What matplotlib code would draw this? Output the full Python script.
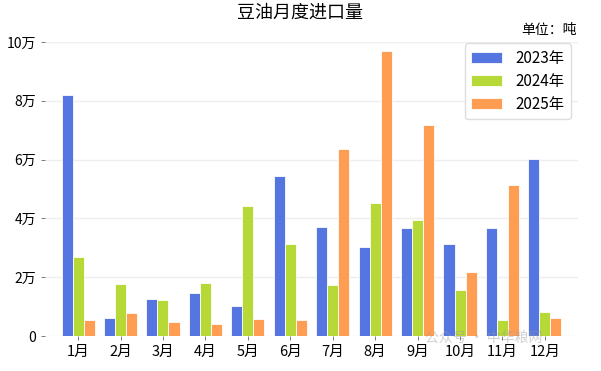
import numpy as np
import matplotlib
matplotlib.use("Agg")
import matplotlib.pyplot as plt

plt.rcParams['font.family'] = ['Noto Sans CJK SC', 'DejaVu Sans']

months = ['1月', '2月', '3月', '4月', '5月', '6月', '7月', '8月', '9月', '10月', '11月', '12月']
y2023 = [82000, 6200, 12600, 14700, 10100, 54400, 37000, 30400, 36600, 31300, 36600, 60300]
y2024 = [26800, 17800, 12100, 18000, 44100, 31300, 17300, 45200, 39500, 15600, 5300, 8100]
y2025 = [5400, 7800, 4900, 4200, 5800, 5500, 63600, 97000, 71700, 21700, 51300, 6100]
series = ['2023年', '2024年', '2025年']
colors = ['#4f72e0', '#b5d831', '#ff9a4d']
yticks = [0, 20000, 40000, 60000, 80000, 100000]
ylabels = ['0', '2万', '4万', '6万', '8万', '10万']

fig = plt.figure(figsize=(6.01, 3.71), dpi=100)
ax = fig.add_axes([45 / 601, 35 / 371, 533 / 601, 294 / 371])

x = np.arange(len(months))
w = 0.26
for i, (vals, name) in enumerate(zip([y2023, y2024, y2025], series)):
    ax.bar(x + (i - 1) * w, vals, w, color=colors[i], label=name,
           edgecolor='white', linewidth=0.6, alpha=0.97, zorder=3)

ax.set_xlim(-0.78, 11.78)
ax.set_ylim(0, 100000)
ax.set_xticks(x)
ax.set_xticklabels(months, fontsize=10.5)
ax.set_yticks(yticks)
ax.set_yticklabels(ylabels, fontsize=10)
ax.tick_params(axis='both', length=3, width=0.6, color='#666666')
ax.grid(axis='y', color='#eeeeee', linewidth=1, zorder=0)
for s in ax.spines.values():
    s.set_visible(False)
ax.set_axisbelow(True)

fig.text(0.5, 1 - 13 / 371, '豆油月度进口量', ha='center', va='center', fontsize=13)
fig.text(577 / 601, 1 - 30 / 371, '单位：吨', ha='right', va='center', fontsize=10)

ax.legend(loc='upper right', bbox_to_anchor=(0.986, 0.995), borderaxespad=0,
          fontsize=11, handlelength=2.0, handleheight=0.75, handletextpad=0.9,
          frameon=True, framealpha=1, edgecolor='#dddddd', fancybox=True,
          borderpad=0.4, labelspacing=0.4)

fig.text(425 / 601, 1 - 338 / 371, '公众号 · 中华粮网', ha='left', va='center',
         fontsize=10, color='#999999', alpha=0.45)

fig.savefig('out.png', dpi=100)
